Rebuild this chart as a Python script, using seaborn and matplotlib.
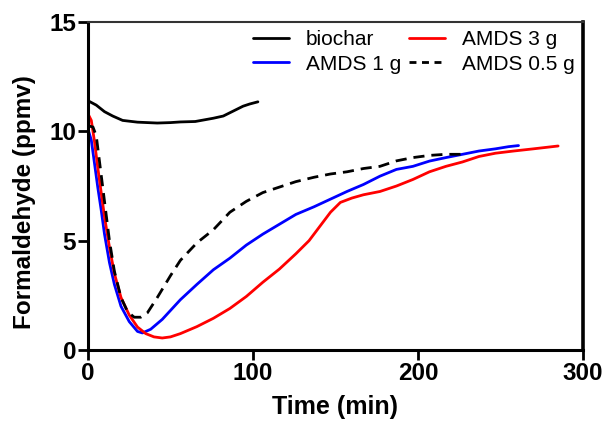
import matplotlib
matplotlib.use("Agg")
import matplotlib.pyplot as plt
import seaborn as sns

# Data
biochar_t = [0, 5, 10, 15, 21, 30, 42, 50, 56, 65, 76, 82, 86, 90, 94, 98, 103]
biochar_y = [11.4, 11.2, 10.9, 10.7, 10.5, 10.42, 10.38, 10.4, 10.43, 10.45, 10.6, 10.7, 10.85, 11.0, 11.15, 11.25, 11.35]

amds1_t = [0, 2, 4, 6, 8, 10, 13, 16, 20, 25, 30, 33, 38, 45, 56, 66, 76, 86, 96, 106, 116, 126,
           137, 147, 157, 167, 177, 187, 197, 207, 217, 227, 237, 247, 255, 261]
amds1_y = [10.1, 9.6, 8.5, 7.4, 6.4, 5.3, 4.0, 3.0, 2.0, 1.3, 0.85, 0.78, 0.95, 1.4, 2.3, 3.0, 3.67, 4.2, 4.8, 5.3, 5.75, 6.2,
           6.55, 6.9, 7.25, 7.57, 7.95, 8.26, 8.4, 8.64, 8.8, 8.95, 9.1, 9.2, 9.3, 9.35]

amds3_t = [0, 2, 4, 6, 8, 10, 13, 16, 20, 25, 30, 35, 40, 45, 50, 56, 66, 76, 86, 96, 106, 116, 126,
           134, 141, 147, 153, 160, 167, 177, 187, 197, 207, 217, 227, 237, 247, 258, 270, 285]
amds3_y = [10.8, 10.5, 9.5, 8.3, 7.2, 6.1, 4.7, 3.5, 2.4, 1.6, 1.05, 0.75, 0.6, 0.55, 0.6, 0.75, 1.07, 1.45, 1.9, 2.45, 3.1, 3.7, 4.4,
           5.0, 5.7, 6.3, 6.75, 6.95, 7.1, 7.25, 7.5, 7.8, 8.15, 8.4, 8.6, 8.85, 9.0, 9.1, 9.2, 9.33]

amds05_t = [0, 3, 5, 8, 10, 13, 16, 20, 24, 28, 32, 36, 42, 50, 56, 66, 76, 86, 96, 106, 116, 126,
            137, 147, 157, 167, 177, 187, 197, 207, 217, 227]
amds05_y = [10.25, 10.2, 9.8, 8.0, 6.8, 5.0, 3.6, 2.4, 1.75, 1.5, 1.5, 1.7, 2.4, 3.4, 4.1, 4.9, 5.5, 6.3, 6.8, 7.2, 7.45, 7.7,
            7.9, 8.05, 8.15, 8.3, 8.4, 8.65, 8.8, 8.9, 8.95, 8.95]

x_ticks = [0, 100, 200, 300]
y_ticks = [0, 5, 10, 15]

sns.set_style("white")
plt.rcParams['font.family'] = ['Liberation Sans', 'DejaVu Sans']
plt.rcParams['text.color'] = 'black'
plt.rcParams['axes.labelcolor'] = 'black'
plt.rcParams['xtick.color'] = 'black'
plt.rcParams['ytick.color'] = 'black'

fig = plt.figure(figsize=(6.04, 4.29), dpi=100)
ax = fig.add_axes([0.1457, 0.1841, 0.965 - 0.1457, 0.9487 - 0.1841])

lw = 2.0
sns.lineplot(x=biochar_t, y=biochar_y, ax=ax, color='black', lw=lw, label='biochar')
sns.lineplot(x=amds1_t, y=amds1_y, ax=ax, color='#0000ff', lw=lw, label='AMDS 1 g')
sns.lineplot(x=amds3_t, y=amds3_y, ax=ax, color='#ff0000', lw=lw, label='AMDS 3 g')
sns.lineplot(x=amds05_t, y=amds05_y, ax=ax, color='black', lw=lw, label='AMDS 0.5 g')
ax.lines[-1].set_dashes([4, 2.5])

ax.set_xlim(0, 300)
ax.set_ylim(0, 15)
ax.set_xticks(x_ticks)
ax.set_yticks(y_ticks)
ax.set_xlabel('Time (min)', fontsize=18, fontweight='bold', labelpad=7)
ax.set_ylabel('Formaldehyde (ppmv)', fontsize=17.5, fontweight='bold')
ax.yaxis.set_label_coords(-0.105, 0.45)
for lab in ax.get_xticklabels() + ax.get_yticklabels():
    lab.set_fontweight('bold')
    lab.set_fontsize(17.5)
ax.tick_params(axis='both', direction='out', length=7, width=2, color='black', pad=1.5,
               bottom=True, left=True, labelcolor='black')

for side in ['left', 'bottom', 'right']:
    ax.spines[side].set_visible(True)
    ax.spines[side].set_color('black')
    ax.spines[side].set_linewidth(2.2)
ax.spines['right'].set_linewidth(2.6)
ax.spines['top'].set_visible(True)
ax.spines['top'].set_color('#333333')
ax.spines['top'].set_linewidth(1.5)

leg = ax.legend(loc='upper right', ncol=2, frameon=False, fontsize=15, handlelength=1.75,
                columnspacing=0.35, handletextpad=0.8, borderaxespad=0.2, borderpad=0.2,
                labelspacing=0.25)
for t in leg.get_texts():
    t.set_color('black')
leg.get_lines()[-1].set_dashes([2.5, 2.0])

fig.savefig('out.png', dpi=100)
